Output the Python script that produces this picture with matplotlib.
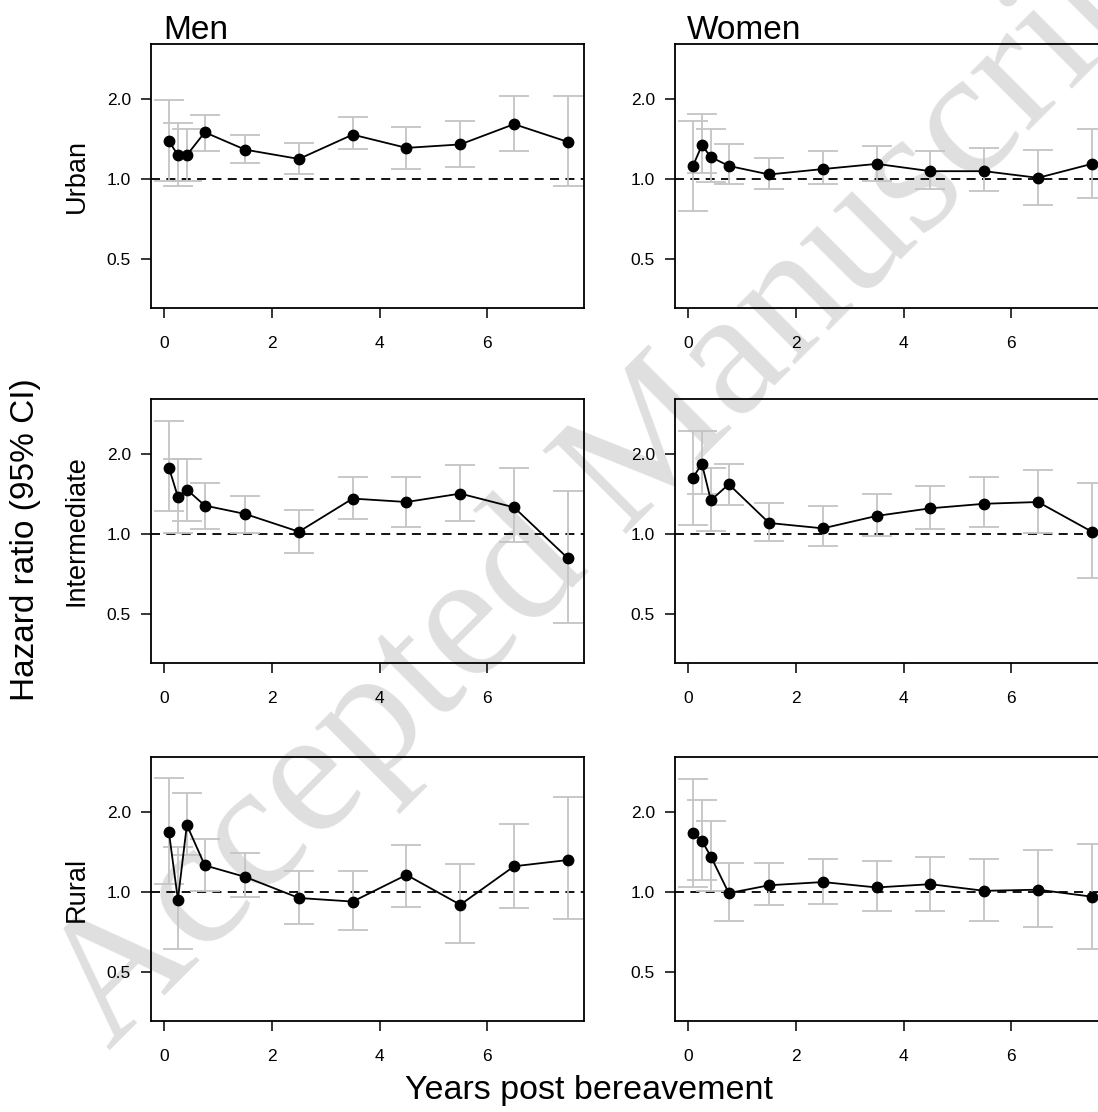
import numpy as np
import matplotlib.pyplot as plt
from matplotlib.ticker import FixedLocator, NullLocator

# time points (years since bereavement, interval midpoints)
years = [1/12, 3/12, 5/12, 0.75, 1.5, 2.5, 3.5, 4.5, 5.5, 6.5, 7.5]

# Men
men_urban_hr = [1.39, 1.23, 1.23, 1.50, 1.29, 1.19, 1.47, 1.31, 1.35, 1.61, 1.38]
men_urban_lo = [0.98, 0.94, 0.985, 1.27, 1.15, 1.04, 1.30, 1.09, 1.11, 1.27, 0.94]
men_urban_hi = [1.99, 1.62, 1.55, 1.74, 1.46, 1.37, 1.72, 1.57, 1.66, 2.05, 2.05]

men_inter_hr = [1.78, 1.38, 1.47, 1.28, 1.19, 1.02, 1.36, 1.32, 1.42, 1.26, 0.81]
men_inter_lo = [1.22, 1.01, 1.12, 1.04, 1.01, 0.85, 1.14, 1.06, 1.12, 0.93, 0.46]
men_inter_hi = [2.66, 1.91, 1.91, 1.56, 1.39, 1.23, 1.64, 1.64, 1.82, 1.77, 1.45]

men_rural_hr = [1.68, 0.935, 1.79, 1.26, 1.14, 0.949, 0.92, 1.16, 0.895, 1.25, 1.32]
men_rural_lo = [1.07, 0.61, 1.38, 1.01, 0.957, 0.76, 0.72, 0.88, 0.64, 0.87, 0.79]
men_rural_hi = [2.70, 1.48, 2.36, 1.59, 1.40, 1.20, 1.20, 1.50, 1.27, 1.80, 2.29]

# Women
women_urban_hr = [1.12, 1.34, 1.21, 1.12, 1.04, 1.09, 1.14, 1.07, 1.07, 1.01, 1.14]
women_urban_lo = [0.76, 1.05, 0.977, 0.957, 0.917, 0.957, 0.985, 0.917, 0.90, 0.80, 0.85]
women_urban_hi = [1.66, 1.76, 1.55, 1.35, 1.20, 1.27, 1.33, 1.27, 1.31, 1.29, 1.55]

women_inter_hr = [1.63, 1.84, 1.34, 1.54, 1.10, 1.05, 1.17, 1.25, 1.30, 1.32, 1.02]
women_inter_lo = [1.08, 1.41, 1.03, 1.29, 0.94, 0.90, 0.985, 1.04, 1.06, 1.01, 0.68]
women_inter_hi = [2.45, 2.45, 1.77, 1.84, 1.31, 1.27, 1.41, 1.52, 1.64, 1.74, 1.56]

women_rural_hr = [1.67, 1.56, 1.36, 0.99, 1.06, 1.09, 1.04, 1.07, 1.01, 1.02, 0.96]
women_rural_lo = [1.04, 1.11, 1.01, 0.775, 0.89, 0.90, 0.85, 0.85, 0.775, 0.74, 0.61]
women_rural_hi = [2.67, 2.22, 1.85, 1.29, 1.29, 1.33, 1.31, 1.35, 1.33, 1.44, 1.52]

row_labels = ["Urban", "Intermediate", "Rural"]
col_titles = ["Men", "Women"]
y_ticks = [0.5, 1.0, 2.0]
x_ticks = [0, 2, 4, 6]

panels = [
    [(men_urban_hr, men_urban_lo, men_urban_hi), (women_urban_hr, women_urban_lo, women_urban_hi)],
    [(men_inter_hr, men_inter_lo, men_inter_hi), (women_inter_hr, women_inter_lo, women_inter_hi)],
    [(men_rural_hr, men_rural_lo, men_rural_hi), (women_rural_hr, women_rural_lo, women_rural_hi)],
]

plt.rcParams['font.family'] = ['Liberation Sans', 'DejaVu Sans']

W, H = 1098, 1112
fig = plt.figure(figsize=(W / 100, H / 100), dpi=100)

# watermark behind the (transparent) panels
fig.text(0.57, 0.575, "Accepted Manuscript", rotation=45, rotation_mode='anchor',
         ha='center', va='center', fontsize=130, color='#dfdfdf',
         family='Liberation Serif', zorder=-5)

col_left = [151, 675]
row_top = [44, 399, 757]
pw, ph = 433, 264

for r in range(3):
    for c in range(2):
        hr, lo, hi = (np.array(a) for a in panels[r][c])
        ax = fig.add_axes([col_left[c] / W, 1 - (row_top[r] + ph) / H, pw / W, ph / H])
        ax.set_facecolor('none')
        ax.set_yscale('log')
        ax.set_ylim(0.326, 3.23)
        ax.set_xlim(-0.25, 7.8)
        ax.axhline(1.0, color='black', lw=1.3, ls=(0, (5, 3.5)), zorder=2)
        ax.errorbar(years, hr, yerr=[hr - lo, hi - hr], fmt='none',
                    ecolor='#c4c4c4', elinewidth=1.3, capsize=11, capthick=1.3, zorder=3)
        ax.plot(years, hr, color='black', lw=1.3, marker='o', ms=7.5, zorder=4)
        ax.yaxis.set_major_locator(FixedLocator(y_ticks))
        ax.yaxis.set_minor_locator(NullLocator())
        ax.set_yticklabels([f"{v:.1f}" for v in y_ticks])
        ax.set_xticks(x_ticks)
        ax.tick_params(axis='both', direction='out', length=7.5, width=1.1, labelsize=12.5)
        ax.tick_params(axis='x', pad=13)
        ax.tick_params(axis='y', pad=7)
        for s in ax.spines.values():
            s.set_linewidth(1.3)
        if r == 0:
            fig.text((col_left[c] + 12) / W, 1 - 39 / H, col_titles[c],
                     fontsize=24, va='baseline', ha='left')
        if c == 0:
            fig.text(77 / W, 1 - (row_top[r] + ph / 2) / H, row_labels[r],
                     rotation=90, fontsize=19.5, ha='center', va='center')

fig.text(26 / W, 1 - 540 / H, "Hazard ratio (95% CI)", rotation=90,
         fontsize=24, ha='center', va='center')
fig.text(589 / W, 1 - 1090 / H, "Years post bereavement",
         fontsize=24.5, ha='center', va='center')

fig.savefig("out.png", dpi=100)
